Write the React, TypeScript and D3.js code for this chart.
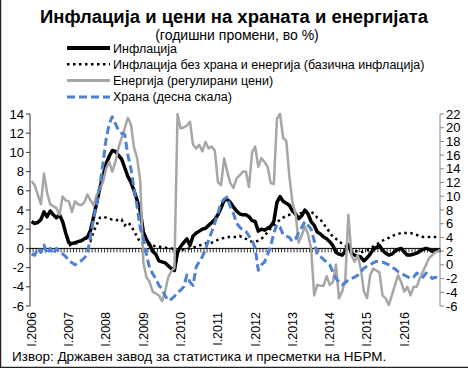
import React from 'react';
import * as d3 from 'd3';

// monthly, I.2006 – XII.2016
const inflation = [
  2.8, 2.6, 2.7, 3.0, 3.8, 3.3, 3.9, 3.5, 3.2, 3.5, 2.8, 1.6,
  0.6, 0.5, 0.6, 0.7, 0.8, 1.0, 1.2, 1.9, 3.3, 4.8, 6.3, 7.5,
  8.8, 9.6, 10.2, 10.1, 9.7, 9.3, 8.4, 7.5, 6.9, 6.0, 5.0, 3.9,
  1.7, 0.9, 0.4, -0.3, -0.6, -1.3, -1.4, -1.5, -1.8, -2.1, -2.3, -0.4,
  0.2, 0.6, 1.0, 0.3, 1.3, 1.6, 1.8, 2.0, 2.1, 2.4, 2.7, 3.0,
  3.5, 4.2, 5.0, 5.1, 4.8, 4.3, 3.9, 3.6, 3.5, 3.5, 3.3, 2.9,
  2.8, 1.8, 2.0, 1.9, 2.1, 2.3, 2.8, 4.8, 5.4, 4.9, 4.7, 4.5,
  3.9, 3.6, 3.1, 3.4, 4.0, 3.6, 2.8, 2.4, 1.7, 1.5, 1.2, 1.0,
  0.7, 0.3, -0.4, -0.6, -0.7, -0.3, 0.4, -0.5, -0.7, -0.8, -0.9, -1.3,
  -1.0, -0.6, -0.1, 0.1, 0.3, -0.2, -0.5, -0.7, -0.6, -0.3, -0.1, 0.0,
  -0.4, -0.7, -0.7, -0.6, -0.5, -0.3, -0.1, 0.0, -0.1, -0.3, -0.2, -0.2,
];

const core = [
  null, null, null, null, null, null, null, null, null, null, null, null,
  0.3, 0.4, 0.5, 0.6, 0.8, 0.9, 1.1, 0.8, 1.8, 2.5, 3.2, 3.3,
  3.2, 3.1, 3.0, 3.0, 2.9, 3.0, 2.4, 2.7, 2.4, 1.8, 1.2, 0.6,
  0.5, 0.4, 0.4, 0.3, 0.2, 0.2, 0.1, 0.1, 0.0, 0.0, -0.1, -0.3,
  -0.2, -0.1, 0.0, 0.0, 0.1, 0.2, 0.3, 0.4, 0.5, 0.5, 0.6, 0.7,
  0.9, 1.0, 1.1, 1.2, 1.2, 1.2, 1.2, 1.3, 1.1, 1.0, 0.8, 0.7,
  0.7, 0.8, 1.0, 1.3, 1.7, 2.1, 2.4, 2.7, 3.0, 3.2, 3.4, 3.5,
  3.5, 3.6, 3.6, 3.7, 3.8, 3.8, 3.8, 3.6, 3.2, 3.0, 2.6, 2.1,
  1.7, 1.2, 1.0, 0.7, 0.5, 0.3, 0.0, -0.1, -0.3, -0.3, -0.4, -0.3,
  -0.2, 0.0, 0.2, 0.4, 0.6, 0.8, 1.0, 1.1, 1.3, 1.4, 1.5, 1.6,
  1.6, 1.6, 1.6, 1.5, 1.4, 1.3, 1.2, 1.2, 1.2, 1.2, 1.2, 1.2,
];

const energy = [
  7.0, 6.6, 5.6, 4.6, 7.8, 5.8, 4.6, 4.4, 4.2, 3.5, 5.4, 5.0,
  4.9, 3.8, 4.9, 4.6, 4.5, 4.8, 5.6, 5.0, 4.5, 5.6, 6.2, 6.9,
  8.3, 9.0, 8.0, 9.0, 10.5, 11.5, 12.5, 13.6, 12.9, 10.5, 9.4, 7.0,
  -1.5, -3.0, -3.5, -4.5, -4.7, -4.9, -5.5, -4.5, -3.0, -2.4, -2.0, 14.0,
  12.5, 12.6, 12.8, 13.2, 10.8, 10.4, 10.8, 10.1, 11.1, 10.4, 10.6, 10.2,
  6.9, 6.6, 9.4, 8.0, 6.8, 6.3, 7.3, 7.6, 8.0, 8.0, 6.4, 10.0,
  10.6, 8.5, 9.4, 9.0, 8.5, 6.8, 6.7, 13.5, 14.0, 11.5, 11.2, 7.5,
  4.8, 3.6, 0.6, 1.4, 2.3, 1.5, 0.0, -4.9, -3.8, -3.9, -3.9, -2.9,
  -3.8, -3.5, -1.7, -5.2, -4.5, -3.3, 3.5, -0.7, -1.4, -0.7, -2.1, -4.5,
  -5.2, -2.8, -2.1, -2.3, -2.5, -4.9, -5.2, -5.9, -4.9, -3.8, -2.8, -3.5,
  -4.5, -4.0, -4.9, -4.0, -4.0, -3.1, -2.4, -1.7, -1.0, -0.7, -0.4, -0.3,
];

// right scale
const food = [
  1.6, 1.4, 2.4, 1.8, 2.9, 1.6, 2.4, 1.6, 2.4, 1.8, 1.6, 1.2,
  0.7, 0.3, 0.0, 0.3, 0.6, 1.0, 1.7, 4.2, 6.9, 9.0, 11.6, 14.8,
  18.3, 20.6, 21.6, 20.6, 19.6, 19.2, 19.0, 16.0, 14.0, 11.0, 8.5, 5.3,
  3.9, 1.5, -0.5, -1.3, -2.0, -3.0, -3.5, -4.5, -5.2, -5.0, -4.6, -4.0,
  -3.7, -3.2, -1.5, -2.5, -3.0, -0.3, 0.5, 1.2, 2.3, 3.6, 4.8, 6.1,
  7.5, 9.0, 9.6, 9.9, 8.5, 7.5, 6.1, 5.5, 5.1, 4.9, 4.2, 3.6,
  2.4, -0.8, 0.0, 0.4, 1.5, 2.8, 4.6, 5.9, 5.5, 4.4, 4.2, 4.0,
  3.4, 3.8, 4.7, 5.5, 6.3, 5.8, 5.2, 3.5, 1.4, 1.2, 0.8, 0.4,
  0.0, -1.0, -2.0, -2.5, -2.9, -2.6, -2.2, -2.0, -1.8, -1.5, -1.0, -0.5,
  -0.2, 0.0, 0.3, 0.5, 0.5, 0.4, 0.2, 0.0, -0.3, -0.6, -1.0, -1.2,
  -1.5, -1.7, -2.0, -1.8, -1.2, -1.5, -1.8, -1.2, -1.5, -2.0, -1.8, -2.0,
];

const years = ['2006', '2007', '2008', '2009', '2010', '2011', '2012', '2013', '2014', '2015', '2016'];
const leftTicks = [-6, -4, -2, 0, 2, 4, 6, 8, 10, 12, 14];
const rightTicks = [-6, -4, -2, 0, 2, 4, 6, 8, 10, 12, 14, 16, 18, 20, 22];

const W = 468;
const H = 368;
const PLOT = { left: 30, right: 440, top: 114, bottom: 306 };
const FONT = 'Liberation Sans, Arial, sans-serif';

export default function App() {
  const n = inflation.length;
  const x = d3.scaleLinear().domain([0, n]).range([PLOT.left, PLOT.right]);
  const cx = (i: number) => x(i + 0.5);
  const yL = d3.scaleLinear().domain([-6, 14]).range([PLOT.bottom, PLOT.top]);
  const yR = d3.scaleLinear().domain([-6, 22]).range([PLOT.bottom, PLOT.top]);

  const lineL = d3
    .line<number | null>()
    .defined((d) => d !== null)
    .x((_, i) => cx(i))
    .y((d) => yL(d as number));
  const lineR = d3
    .line<number | null>()
    .x((_, i) => cx(i))
    .y((d) => yR(d as number));

  const y0 = yL(0);
  const legend = [
    { label: 'Инфлација', stroke: '#000', width: 4, dash: undefined },
    { label: 'Инфлација без храна и енергија (базична инфлација)', stroke: '#000', width: 2.5, dash: '2.5 3.5' },
    { label: 'Енергија (регулирани цени)', stroke: '#a6a6a6', width: 3, dash: undefined },
    { label: 'Храна (десна скала)', stroke: '#4f81d0', width: 3, dash: '8 4' },
  ];

  return (
    <div style={{ position: 'absolute', left: 0, top: 0 }}>
      <svg width={W} height={H} style={{ display: 'block', background: '#fff' }} fontFamily={FONT}>
        <rect x={0} y={0} width={W} height={H} fill="#fff" />
        <line x1={0.5} y1={0} x2={0.5} y2={H} stroke="#222" strokeWidth={1.5} />
        <line x1={0} y1={H - 0.5} x2={W} y2={H - 0.5} stroke="#222" strokeWidth={1.5} />

        {/* title */}
        <text x={234} y={23} textAnchor="middle" fontSize={18} fontWeight="bold" textLength={388} lengthAdjust="spacingAndGlyphs">
          Инфлација и цени на храната и енергијата
        </text>
        <text x={237} y={40} textAnchor="middle" fontSize={14}>
          (годишни промени, во %)
        </text>

        {/* legend */}
        {legend.map((l, k) => (
          <g key={l.label} transform={`translate(0,${48 + k * 16.3})`}>
            <line x1={67} x2={110} y1={0} y2={0} stroke={l.stroke} strokeWidth={l.width} strokeDasharray={l.dash} />
            <text x={113} y={4.5} fontSize={12.5}>
              {l.label}
            </text>
          </g>
        ))}

        {/* left axis */}
        <line x1={PLOT.left} x2={PLOT.left} y1={PLOT.top} y2={PLOT.bottom} stroke="#333" />
        {leftTicks.map((t) => (
          <g key={'l' + t}>
            <line x1={PLOT.left - 4} x2={PLOT.left} y1={yL(t)} y2={yL(t)} stroke="#333" />
            <text x={PLOT.left - 6} y={yL(t)} dy="0.35em" textAnchor="end" fontSize={13}>
              {t}
            </text>
          </g>
        ))}

        {/* right axis */}
        <line x1={PLOT.right} x2={PLOT.right} y1={PLOT.top} y2={PLOT.bottom} stroke="#888" />
        {rightTicks.map((t) => (
          <g key={'r' + t}>
            <line x1={PLOT.right} x2={PLOT.right + 4} y1={yR(t)} y2={yR(t)} stroke="#888" />
            <text x={PLOT.right + 6} y={yR(t)} dy="0.35em" textAnchor="start" fontSize={13}>
              {t}
            </text>
          </g>
        ))}

        {/* zero line with monthly ticks */}
        <line x1={PLOT.left} x2={PLOT.right} y1={y0} y2={y0} stroke="#000" strokeWidth={1} />
        {d3.range(n + 1).map((k) => (
          <line key={'m' + k} x1={x(k)} x2={x(k)} y1={y0} y2={y0 + 4} stroke="#000" strokeWidth={0.8} />
        ))}

        {/* x labels */}
        {years.map((yr, k) => (
          <text
            key={yr}
            transform={`translate(${cx(k * 12)},312) rotate(-90)`}
            textAnchor="end"
            dy="0.35em"
            fontSize={12.5}
          >
            {'I.' + yr}
          </text>
        ))}

        {/* series */}
        <path d={lineL(inflation) ?? ''} fill="none" stroke="#000" strokeWidth={3.5} strokeLinejoin="round" />
        <path d={lineL(core) ?? ''} fill="none" stroke="#000" strokeWidth={2.5} strokeDasharray="2.5 3.5" />
        <path d={lineL(energy) ?? ''} fill="none" stroke="#a6a6a6" strokeWidth={2.5} strokeLinejoin="round" />
        <path d={lineR(food) ?? ''} fill="none" stroke="#4f81d0" strokeWidth={3} strokeDasharray="8 4" strokeLinejoin="round" />

        {/* source */}
        <text x={12} y={361} fontSize={13.5}>
          Извор: Државен завод за статистика и пресметки на НБРМ.
        </text>
      </svg>
    </div>
  );
}
